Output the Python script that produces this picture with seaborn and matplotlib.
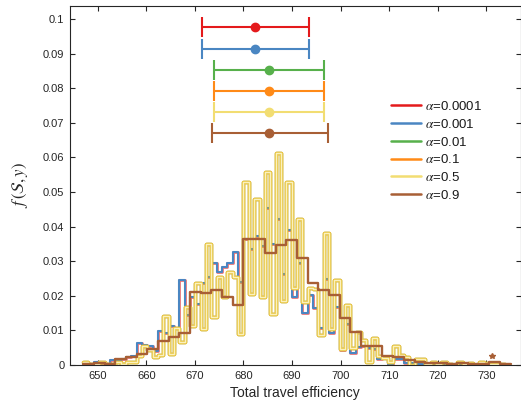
import numpy as np
import pandas as pd
import matplotlib
matplotlib.use("Agg")
import matplotlib.pyplot as plt
import seaborn as sns

# histogram bins (fine bins for most alphas, coarse bins for alpha=0.9)
bin_start = 647.0
fine_width = 1.1
coarse_width = 2.2

# density per fine bin, alpha=0.0001 / 0.001 (nearly identical)
dens_small = [0.0000, 0.0004, 0.0008, 0.0006, 0.0004, 0.0015, 0.0012, 0.0018, 0.0022, 0.0027,
              0.0065, 0.0058, 0.0055, 0.0040, 0.0099, 0.0093, 0.0113, 0.0108, 0.0246, 0.0145,
              0.0196, 0.0176, 0.0236, 0.0253, 0.0296, 0.0270, 0.0283, 0.0296, 0.0327, 0.0240,
              0.0364, 0.0336, 0.0372, 0.0344, 0.0454, 0.0350, 0.0422, 0.0263, 0.0390, 0.0197,
              0.0296, 0.0150, 0.0202, 0.0164, 0.0108, 0.0250, 0.0093, 0.0169, 0.0043, 0.0118,
              0.0034, 0.0053, 0.0055, 0.0050, 0.0045, 0.0016, 0.0022, 0.0003, 0.0016, 0.0016,
              0.0005, 0.0005, 0.0004, 0.0002, 0.0003, 0.0001, 0.0002, 0.0003, 0.0001, 0.0002,
              0.0001, 0.0001, 0.0002, 0.0000, 0.0001, 0.0001, 0.0000, 0.0001, 0.0000]

# density per fine bin, alpha=0.01 / 0.1 / 0.5 (overlapping)
dens_mid = [0.0008, 0.0003, 0.0002, 0.0008, 0.0003, 0.0002, 0.0010, 0.0004, 0.0008, 0.0010,
            0.0027, 0.0055, 0.0042, 0.0022, 0.0030, 0.0142, 0.0031, 0.0106, 0.0066, 0.0169,
            0.0113, 0.0236, 0.0103, 0.0350, 0.0140, 0.0255, 0.0197, 0.0270, 0.0255, 0.0089,
            0.0530, 0.0205, 0.0479, 0.0196, 0.0557, 0.0147, 0.0612, 0.0185, 0.0530, 0.0224,
            0.0422, 0.0183, 0.0224, 0.0220, 0.0087, 0.0382, 0.0103, 0.0246, 0.0045, 0.0173,
            0.0050, 0.0096, 0.0072, 0.0010, 0.0077, 0.0025, 0.0020, 0.0010, 0.0055, 0.0030,
            0.0022, 0.0000, 0.0016, 0.0016, 0.0003, 0.0008, 0.0003, 0.0010, 0.0004, 0.0001,
            0.0009, 0.0003, 0.0006, 0.0001, 0.0010, 0.0005, 0.0003, 0.0004, 0.0002]

# density per coarse bin, alpha=0.9
dens_high = [0.0002, 0.0006, 0.0004, 0.0016, 0.0022, 0.0033, 0.0045, 0.0070, 0.0080, 0.0093,
             0.0212, 0.0207, 0.0217, 0.0197, 0.0173, 0.0363, 0.0365, 0.0325, 0.0346, 0.0361,
             0.0308, 0.0238, 0.0217, 0.0202, 0.0135, 0.0096, 0.0055, 0.0055, 0.0026, 0.0022,
             0.0014, 0.0010, 0.0007, 0.0005, 0.0003, 0.0007, 0.0004, 0.0003, 0.0008, 0.0002]

# mean and interval per alpha (error bars on top)
alphas = ["0.0001", "0.001", "0.01", "0.1", "0.5", "0.9"]
colors = ["#E41A1C", "#4A86C2", "#57B04B", "#FF8A17", "#F2DD72", "#A85F35"]
err_level = [0.0976, 0.0913, 0.0853, 0.0793, 0.0732, 0.0671]
err_mean = [682.4, 682.4, 685.2, 685.2, 685.2, 685.2]
err_low = [671.45, 671.45, 673.9, 673.9, 673.9, 673.5]
err_high = [693.5, 693.5, 696.6, 696.6, 696.6, 697.3]

outlier_x = [731.2]
outlier_y = [0.0026]

sns.set_style("ticks")
plt.rcParams["font.family"] = ["Liberation Sans", "DejaVu Sans"]
plt.rcParams["mathtext.fontset"] = "stix"

fig = plt.figure(figsize=(5.21, 4.05), dpi=100)
ax = fig.add_axes([70 / 521, 40 / 405, 450.5 / 521, 359 / 405])

fine_edges = list(bin_start + fine_width * np.arange(len(dens_mid) + 1))
coarse_edges = list(bin_start + coarse_width * np.arange(len(dens_high) + 1))
fine = pd.DataFrame({"x": [(a + b) / 2 for a, b in zip(fine_edges[:-1], fine_edges[1:])],
                     "small": dens_small, "mid": dens_mid})
coarse = pd.DataFrame({"x": [(a + b) / 2 for a, b in zip(coarse_edges[:-1], coarse_edges[1:])],
                       "high": dens_high})


def step_hist(df, col, edges, color, lw, alpha=1.0):
    sns.histplot(data=df, x="x", weights=col, bins=edges, element="step", fill=False,
                 color=color, linewidth=lw, alpha=alpha, ax=ax)


step_hist(fine, "small", fine_edges, colors[0], 2.0, 0.6)
step_hist(fine, "small", fine_edges, colors[1], 1.5)
step_hist(fine, "mid", fine_edges, colors[2], 2.4)
step_hist(fine, "mid", fine_edges, colors[3], 2.4)
step_hist(fine, "mid", fine_edges, "#EACB4E", 2.5)
step_hist(fine, "mid", fine_edges, "#FBF1BE", 0.9)
step_hist(coarse, "high", coarse_edges, colors[5], 1.7)
ax.plot(outlier_x, outlier_y, marker="*", color=colors[5], markersize=4, linestyle="none")

for i in range(len(alphas)):
    ax.errorbar([err_mean[i]], [err_level[i]],
                xerr=[[err_mean[i] - err_low[i]], [err_high[i] - err_mean[i]]],
                fmt="o", color=colors[i], markersize=6, elinewidth=1.5,
                capsize=7.5, capthick=1.5)

handles = [plt.Line2D([], [], color=c, linewidth=1.8) for c in colors]
labels = [r"$\alpha$=" + a for a in alphas]
ax.legend(handles, labels, loc="upper left", bbox_to_anchor=(391 / 521, 1 - 100 / 405),
          bbox_transform=fig.transFigure, frameon=False, fontsize=9.5, labelcolor="#1a1a1a",
          handlelength=2.3, handletextpad=0.3, labelspacing=0.36, borderpad=0, borderaxespad=0)

ax.set_xlim(644.3, 737.0)
ax.set_ylim(0, 0.1038)
ax.set_xticks(range(650, 731, 10))
ax.set_yticks([i / 100 for i in range(11)])
ax.set_yticklabels(["0"] + [f"{i / 100:g}" for i in range(1, 11)])
ax.tick_params(direction="in", length=3.5, width=0.8, labelsize=8, colors="#262626",
               top=True, right=True, pad=4)
for s in ax.spines.values():
    s.set_color("#262626")
    s.set_linewidth(0.8)
    s.set_visible(True)

ax.set_xlabel("Total travel efficiency", fontsize=10, color="#262626", labelpad=4)
ax.set_ylabel(r"$f\,(\mathcal{S},y)$", fontsize=12, color="#262626", labelpad=9)

fig.savefig("out.png", dpi=100)
plt.close(fig)
